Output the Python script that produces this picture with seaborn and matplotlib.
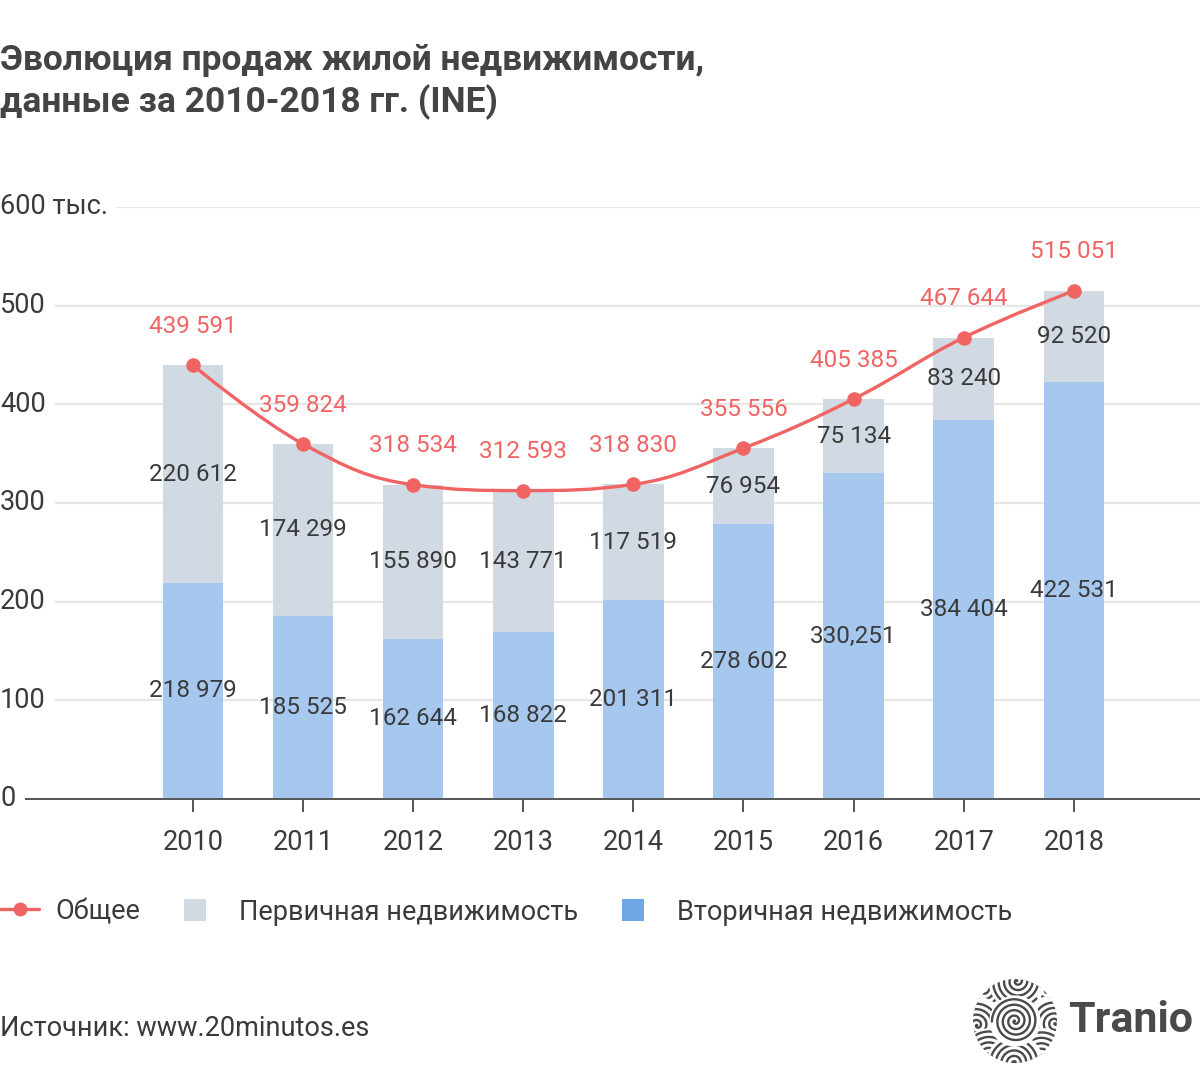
import numpy as np
import pandas as pd
import matplotlib
matplotlib.use("Agg")
import matplotlib.pyplot as plt
import matplotlib.patches as mpatches
from matplotlib.lines import Line2D
from matplotlib.path import Path
from matplotlib.legend_handler import HandlerPatch
import seaborn as sns

# ---------------- data ----------------
years = ["2010", "2011", "2012", "2013", "2014", "2015", "2016", "2017", "2018"]
secondary = [218979, 185525, 162644, 168822, 201311, 278602, 330251, 384404, 422531]
primary = [220612, 174299, 155890, 143771, 117519, 76954, 75134, 83240, 92520]
total = [439591, 359824, 318534, 312593, 318830, 355556, 405385, 467644, 515051]
secondary_labels = ["218 979", "185 525", "162 644", "168 822", "201 311",
                    "278 602", "330,251", "384 404", "422 531"]
primary_labels = ["220 612", "174 299", "155 890", "143 771", "117 519",
                  "76 954", "75 134", "83 240", "92 520"]
total_labels = ["439 591", "359 824", "318 534", "312 593", "318 830",
                "355 556", "405 385", "467 644", "515 051"]
y_ticks = [0, 100, 200, 300, 400, 500, 600]
y_tick_labels = ["0", "100", "200", "300", "400", "500", "600 тыс."]

title = "Эволюция продаж жилой недвижимости,\nданные за 2010-2018 гг. (INE)"
legend_labels = ["Общее", "Первичная недвижимость", "Вторичная недвижимость"]
source = "Источник: www.20minutos.es"

# ---------------- style ----------------
RED = "#f06464"
GRAY = "#d1dae3"
BLUE_BAR = "#a6c8ef"
BLUE_LEG = "#6fa7e7"
TXT = "#3a3a3a"

sns.set_theme(style="white")
plt.rcParams["font.family"] = ["Roboto", "DejaVu Sans"]

W, H = 1200, 1092
fig = plt.figure(figsize=(W / 100, H / 100), dpi=100)
y0_px, y600_px = 799, 207
ax = fig.add_axes([0, 1 - y0_px / H, 1, (y0_px - y600_px) / H])

df = pd.DataFrame({
    "year": years,
    "secondary": np.array(secondary) / 1000,
    "stack": (np.array(secondary) + np.array(primary)) / 1000,
    "total": np.array(total) / 1000,
})

sns.barplot(data=df, x="year", y="stack", color=GRAY, width=0.55,
            saturation=1, ax=ax, zorder=2, linewidth=0, edgecolor="none")
sns.barplot(data=df, x="year", y="secondary", color=BLUE_BAR, width=0.55,
            saturation=1, ax=ax, zorder=2, linewidth=0, edgecolor="none")

# smooth spline (Highcharts-like) through the total points
xs = np.arange(len(years), dtype=float)
ys = df["total"].to_numpy()
sm = 1.5
den = sm + 1
lc = [(xs[i], ys[i]) for i in range(len(xs))]
rc = [(xs[i], ys[i]) for i in range(len(xs))]
for i in range(1, len(xs) - 1):
    lx = (sm * xs[i] + xs[i - 1]) / den
    ly = (sm * ys[i] + ys[i - 1]) / den
    rx = (sm * xs[i] + xs[i + 1]) / den
    ry = (sm * ys[i] + ys[i + 1]) / den
    corr = ((ry - ly) * (rx - xs[i])) / (rx - lx) + ys[i] - ry
    ly += corr
    ry += corr
    if ly > ys[i - 1] and ly > ys[i]:
        ly = max(ys[i - 1], ys[i]); ry = 2 * ys[i] - ly
    elif ly < ys[i - 1] and ly < ys[i]:
        ly = min(ys[i - 1], ys[i]); ry = 2 * ys[i] - ly
    if ry > ys[i + 1] and ry > ys[i]:
        ry = max(ys[i + 1], ys[i]); ly = 2 * ys[i] - ry
    elif ry < ys[i + 1] and ry < ys[i]:
        ry = min(ys[i + 1], ys[i]); ly = 2 * ys[i] - ry
    lc[i] = (lx, ly)
    rc[i] = (rx, ry)
verts = [(xs[0], ys[0])]
codes = [Path.MOVETO]
for i in range(1, len(xs)):
    verts += [rc[i - 1], lc[i], (xs[i], ys[i])]
    codes += [Path.CURVE4] * 3
ax.add_patch(mpatches.PathPatch(Path(verts, codes), fill=False,
                                edgecolor=RED, lw=2.4, zorder=4,
                                capstyle="round"))
sns.scatterplot(x=xs, y=ys, color=RED, s=110, edgecolor=RED, linewidth=0,
                ax=ax, zorder=5, legend=False)

# value labels
for i in range(len(years)):
    sec = df["secondary"][i]
    stk = df["stack"][i]
    ax.text(i, sec / 2, secondary_labels[i], ha="center", va="center",
            fontsize=17.5, color=TXT, zorder=6)
    ax.text(i, sec + (stk - sec) / 2, primary_labels[i], ha="center",
            va="center", fontsize=17.5, color=TXT, zorder=6)
    ax.annotate(total_labels[i], (i, ys[i]), xytext=(0, 28),
                textcoords="offset points", ha="center", va="center",
                fontsize=17.5, color=RED, zorder=6)

# axes styling
ax.set_xlim(-193 / 110.1, (W - 193) / 110.1)
ax.set_ylim(0, 600)
ax.set_yticks(y_ticks)
ax.set_yticklabels([])
ax.tick_params(axis="y", length=0)
ax.grid(axis="y", color="#e6e6e6", lw=1.6)
ax.grid(axis="x", visible=False)
ax.set_axisbelow(True)
for s in ["top", "right", "left"]:
    ax.spines[s].set_visible(False)
ax.spines["bottom"].set_color("#555555")
ax.spines["bottom"].set_linewidth(1.4)
ax.set_xlabel("")
ax.set_ylabel("")
ax.tick_params(axis="x", bottom=True, length=9.5, width=1.4, color="#555555",
               pad=12, labelsize=19.5, labelcolor=TXT)
ax.patch.set_alpha(0)

ytr = ax.get_yaxis_transform()
for v, lab in zip(y_ticks, y_tick_labels):
    ax.text(0, v, lab, transform=ytr, ha="left", va="center", fontsize=19.5,
            color=TXT, zorder=7, clip_on=False,
            bbox=dict(boxstyle="square,pad=0.35", fc="white", ec="none"))

# title
fig.text(0.0, 1 - 44 / H, title, ha="left", va="top", fontsize=25.5,
         fontweight="bold", color="#444444", linespacing=1.25)


# legend
class SquareHandler(HandlerPatch):
    def create_artists(self, legend, orig_handle, xdescent, ydescent,
                       width, height, fontsize, trans):
        s = height * 1.0
        p = mpatches.Rectangle((-xdescent, -ydescent + (height - s) / 2), s, s,
                               facecolor=orig_handle.get_facecolor(),
                               edgecolor="none", transform=trans)
        return [p]


handles = [
    Line2D([0], [0], color=RED, lw=2.4, marker="o", ms=9),
    mpatches.Patch(facecolor=GRAY, edgecolor="none"),
    mpatches.Patch(facecolor=BLUE_LEG, edgecolor="none"),
]
fig.legend(handles, legend_labels, loc="center left",
           bbox_to_anchor=(0.0, 1 - 912 / H), ncol=3, frameon=False,
           fontsize=19.5, handlelength=1.45, handleheight=0.9,
           handletextpad=0.6, columnspacing=1.6, borderpad=0,
           borderaxespad=0, labelcolor=TXT,
           handler_map={mpatches.Patch: SquareHandler()})

# source
fig.text(0.0, 1 - 1028 / H, source, ha="left", va="center", fontsize=19.5,
         color=TXT)

# logo (decorative)
lax = fig.add_axes([973 / W, 1 - 1063 / H, 84 / W, 84 / H])
lax.set_xlim(-1, 1)
lax.set_ylim(-1, 1)
lax.set_aspect("equal")
lax.axis("off")
clip = mpatches.Circle((0, 0), 1.0, transform=lax.transData)
LOGO = "#4a4a4a"
ring_sets = [(-0.75, 0.75), (0.75, 0.75), (-0.9, -0.1), (0.95, -0.05),
             (-0.6, -0.85), (0.65, -0.85), (0.0, -1.0), (0.05, 0.95),
             (0.0, 0.0)]
for k, (cx, cy) in enumerate(ring_sets):
    zo = 2 * k + 1
    rmax = 0.62 if (cx, cy) != (0.0, 0.0) else 0.55
    bg = mpatches.Circle((cx, cy), rmax + 0.06, facecolor="white",
                         edgecolor="none", zorder=zo)
    lax.add_patch(bg)
    bg.set_clip_path(clip)
    th = np.linspace(0, 2 * np.pi * (rmax / 0.13), 800)
    r = 0.13 * th / (2 * np.pi)
    ln, = lax.plot(cx + r * np.cos(th + k), cy + r * np.sin(th + k),
                   color=LOGO, lw=1.7, zorder=zo + 0.5,
                   solid_capstyle="round")
    ln.set_clip_path(clip)
fig.text(1068 / W, 1 - 1020 / H, "Tranio", ha="left", va="center",
         fontsize=31, fontweight="bold", color=LOGO)

fig.savefig("out.png", dpi=100, facecolor="white")
